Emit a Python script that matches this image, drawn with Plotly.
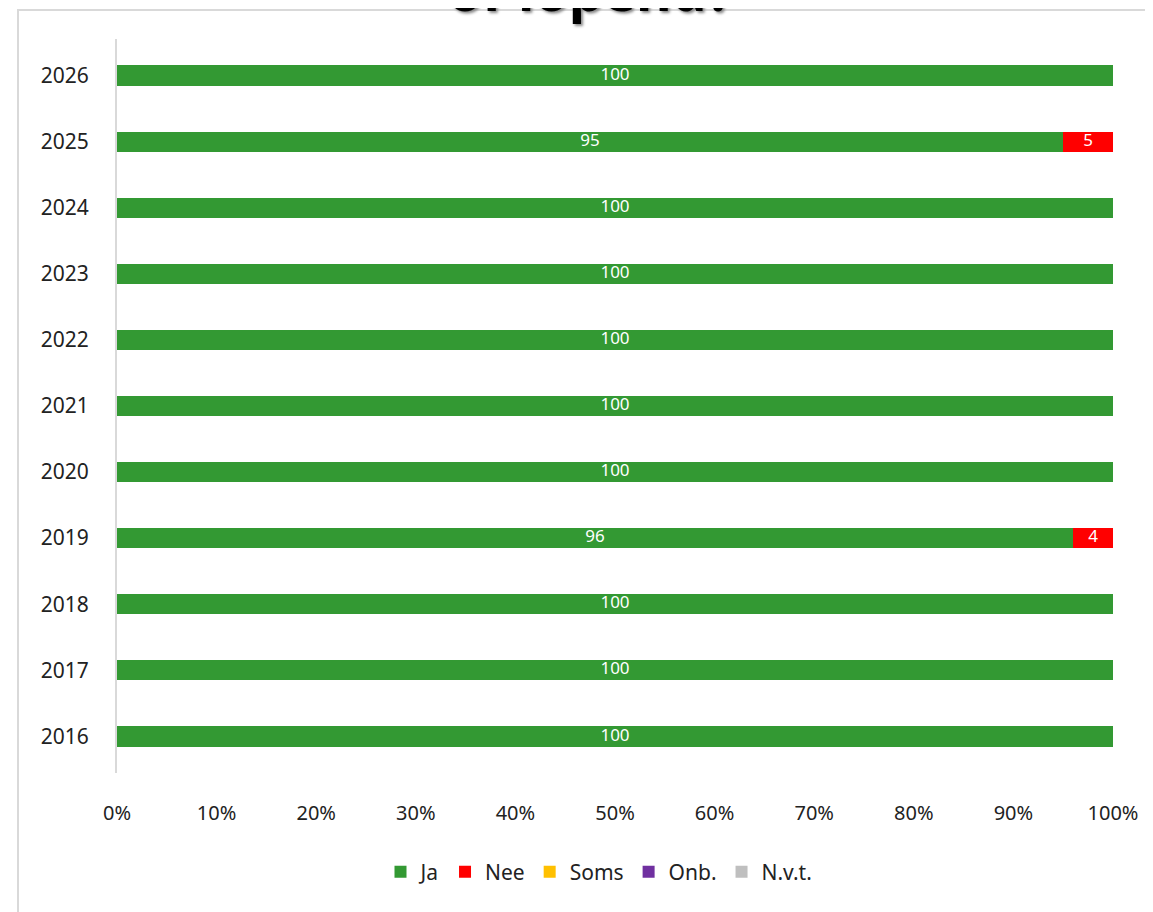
import plotly.graph_objects as go

years = ["2016", "2017", "2018", "2019", "2020", "2021", "2022", "2023", "2024", "2025", "2026"]
series_names = ["Ja", "Nee", "Soms", "Onb.", "N.v.t."]
ja = [100, 100, 100, 96, 100, 100, 100, 100, 100, 95, 100]
nee = [0, 0, 0, 4, 0, 0, 0, 0, 0, 5, 0]
soms = [0] * 11
onb = [0] * 11
nvt = [0] * 11
colors = ["#339933", "#FF0000", "#FFC000", "#7030A0", "#BFBFBF"]
x_ticks = [0, 10, 20, 30, 40, 50, 60, 70, 80, 90, 100]
x_tick_labels = [f"{v}%" for v in x_ticks]

FONT = "Noto Sans"
OFF = 8  # page body margin offset
fig = go.Figure()
all_series = [ja, nee, soms, onb, nvt]
for name, vals, col in zip(series_names, all_series, colors):
    fig.add_trace(go.Bar(
        y=years, x=vals, name=name, orientation="h",
        marker=dict(color=col, line=dict(width=0)),
        textposition="none",
        hoverinfo="x+y+name",
    ))

# data labels as a text trace centred on each segment
lx, ly, lt = [], [], []
for i, yr in enumerate(years):
    base = 0
    for vals in all_series:
        v = vals[i]
        if v:
            lx.append(base + v / 2)
            ly.append(yr)
            lt.append(str(v))
        base += v
fig.add_trace(go.Scatter(x=lx, y=ly, text=lt, mode="text", textposition="middle center",
                         textfont=dict(color="white", size=17, family=FONT),
                         showlegend=False, hoverinfo="skip"))

W, H = 1153 - OFF, 912 - OFF
L, R, T, B = 117 - OFF, 40, 39 - OFF, 139
pw, ph = W - L - R, H - T - B

def px2x(px):
    return (px - OFF - L) / pw

def py2y(py):
    return (H - B - (py - OFF)) / ph

fig.update_layout(
    barmode="stack",
    bargap=0.69,
    width=W, height=H,
    margin=dict(l=L, r=R, t=T, b=B, autoexpand=False),
    paper_bgcolor="white", plot_bgcolor="white",
    font=dict(family=FONT, size=18, color="#222222"),
    showlegend=True,
    legend=dict(orientation="h", x=px2x(599), xanchor="center", y=py2y(872), yanchor="middle",
                font=dict(size=21, color="#222222", family=FONT), traceorder="normal",
                itemwidth=30),
    xaxis=dict(range=[0, 100], tickvals=x_ticks, ticktext=x_tick_labels,
               showgrid=False, zeroline=False, showline=False,
               ticks="outside", ticklen=22, tickcolor="rgba(0,0,0,0)",
               tickfont=dict(size=20, family=FONT, color="#222222"), fixedrange=True),
    yaxis=dict(categoryorder="array", categoryarray=years, showgrid=False, zeroline=False,
               showline=True, linecolor="#d9d9d9", linewidth=2,
               ticks="outside", ticklen=22, tickcolor="rgba(0,0,0,0)",
               tickfont=dict(size=21, family=FONT, color="#222222")),
    shapes=[dict(type="rect", xref="paper", yref="paper",
                 x0=px2x(18), x1=px2x(1250), y0=py2y(1000), y1=py2y(10),
                 line=dict(color="#d9d9d9", width=2), fillcolor="rgba(0,0,0,0)", layer="below")],
    annotations=[dict(text="<b>of lopend?</b>", xref="paper", yref="paper",
                      x=px2x(590), y=py2y(29), xanchor="center", yanchor="bottom",
                      showarrow=False,
                      font=dict(size=55, family="Open Sans", color="black",
                                shadow="2px 2px 3px #888888"))],
)

fig.write_html("out.html")
